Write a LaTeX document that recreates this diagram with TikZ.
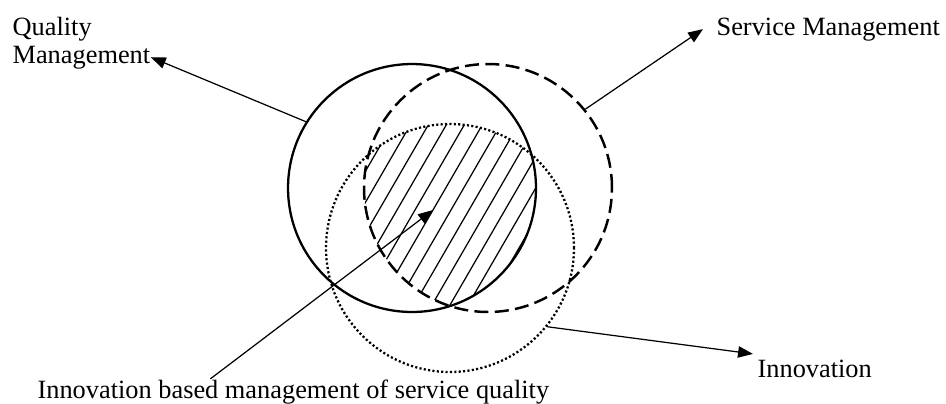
\documentclass[tikz,border=0pt]{standalone}
\usepackage{fontspec}
\setmainfont{Liberation Serif}
\usetikzlibrary{arrows.meta}

\begin{document}
\begin{tikzpicture}[x=0.02cm, y=-0.02cm, line width=0.7pt,
  >={Triangle[length=8.5pt,width=6.5pt]}]
\tikzset{setcirc/.style={circle, draw, inner sep=0pt, minimum size=4.96cm},
  txt/.style={inner sep=0pt, font=\fontsize{15}{16}\selectfont},
  pointarrow/.style={->, line width=0.7pt}}
\useasboundingbox (0,0) rectangle (946,403);
% ---------- hatched core (inside all three sets) ----------
\begin{scope}
  \clip (412,188) circle (2.48cm);
  \clip (488,188) circle (2.48cm);
  \clip (450,248) circle (2.48cm);
  \foreach \i in {-12,...,12}
    \draw ({433+18*\i-110},{210+190}) -- ({433+18*\i+110},{210-190});
\end{scope}
% ---------- the three sets ----------
\node[setcirc, line width=1.3pt] (qual) at (412,188) {};
\node[setcirc, line width=1.4pt, dash pattern=on 8pt off 3.6pt] (serv) at (488,188) {};
\node[setcirc, line width=1.3pt, dash pattern=on 1.2pt off 1.3pt] (innov) at (450,248) {};
\coordinate (core) at (433,210);
% ---------- labels ----------
\node[txt, anchor=base west] (qtxt) at (12,35) {Quality};
\node[txt, anchor=base west] (mtxt) at (12,63) {Management};
\node[txt, anchor=base west] (stxt) at (716,35) {Service Management};
\node[txt, anchor=base west] (itxt) at (757,377) {Innovation};
\node[txt, anchor=base west] (btxt) at (37,398) {Innovation based management of service quality};
% ---------- arrows ----------
\draw[pointarrow] (qual.148) -- (mtxt.east);
\draw[pointarrow] (serv.39) -- ([xshift=-0.26cm]stxt.west);
\draw[pointarrow] (innov.-39) -- ([shift={(-0.08cm,0.1cm)}]itxt.north west);
\draw[pointarrow] ([xshift=-1.66cm]btxt.north) -- (core);
\end{tikzpicture}
\end{document}
